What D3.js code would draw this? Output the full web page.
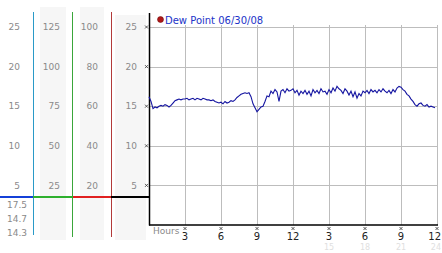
<!DOCTYPE html>
<meta charset="utf-8">
<head>
<script src="https://d3js.org/d3.v7.min.js"></script>
<style>
  body { margin: 0; background: #fff; }
  text { font-family: "DejaVu Sans", Verdana, sans-serif; font-size: 9px; }
  .lbl { fill: #8a8a8a; }
  .grid { stroke: #bdbdbd; stroke-width: 1px; shape-rendering: crispEdges; }
</style>
</head>
<body>
<script>
// dew point readings every 10 minutes, 06/30/08
var dewHours = d3.range(0, 24, 1 / 6);
var dewValues = [
  16.2, 15.6, 14.7, 14.9, 14.8, 15.0,   15.1, 15.0, 15.2, 15.1, 14.9, 15.1,
  15.4, 15.7, 15.8, 15.9, 15.8, 15.9,   15.9, 16.0, 15.8, 15.9, 16.0, 15.8,
  16.0, 15.9, 15.8, 16.0, 15.9, 15.8,   15.8, 15.7, 15.8, 15.6, 15.5, 15.4,
  15.5, 15.3, 15.6, 15.4, 15.5, 15.7,   15.6, 15.8, 16.1, 16.3, 16.5, 16.6,
  16.7, 16.6, 16.7, 16.2, 15.3, 14.8,   14.3, 14.6, 14.9, 15.0, 15.6, 16.3,
  16.2, 16.9, 16.6, 17.1, 16.8, 15.6,   16.9, 17.1, 16.7, 17.2, 16.9, 17.0,
  17.2, 16.7, 17.0, 16.4, 16.9, 16.6,   17.0, 16.5, 16.9, 16.3, 17.1, 16.7,
  17.0, 16.6, 17.2, 16.8, 16.9, 16.5,   17.1, 16.7, 17.3, 16.9, 17.5, 17.2,
  17.0, 16.6, 17.2, 16.9, 16.4, 16.9,   16.2, 16.8, 16.0, 16.6, 16.3, 16.9,
  16.7, 17.0, 16.6, 17.1, 16.8, 17.0,   16.7, 17.1, 16.8, 17.2, 16.9, 16.7,
  17.0, 16.6, 17.1, 16.8, 17.3, 17.5,   17.4, 17.1, 16.9, 16.5, 16.3, 15.9,
  15.6, 15.2, 15.0, 15.3, 15.4, 15.1,   15.0, 15.2, 14.9, 15.0, 14.9, 14.8
];
var colTicks1 = [5, 10, 15, 20, 25];
var colTicks2 = [25, 50, 75, 100, 125];
var colTicks3 = [20, 40, 60, 80, 100];
var summaryLabels = ["17.5", "14.7", "14.3"];
var hourTicks = [3, 6, 9, 12, 15, 18, 21, 24];
var hourLabels = ["3", "6", "9", "12", "3", "6", "9", "12"];
var hour24Ticks = [15, 18, 21, 24];
var legendLabel = "Dew Point 06/30/08";

var svg = d3.select("body").append("svg")
    .attr("width", 442)
    .attr("height", 253);

var x = d3.scaleLinear().domain([0, 24]).range([149, 437]);
var y = d3.scaleLinear().domain([0, 25]).range([225, 27]);
var y2 = d3.scaleLinear().domain([0, 125]).range([225, 27]);
var y3 = d3.scaleLinear().domain([0, 100]).range([225, 27]);

// grey bands of the side scales
[[40, 7, 26], [80, 7, 24], [115, 15, 31]].forEach(function(b) {
  svg.append("rect")
      .attr("x", b[0]).attr("y", b[1])
      .attr("width", b[2]).attr("height", 240 - b[1])
      .attr("fill", "#f6f6f6");
});

// column labels
function column(ticks, scale, xr) {
  svg.append("g").selectAll("text")
    .data(ticks)
    .join("text")
      .attr("class", "lbl")
      .attr("x", xr)
      .attr("y", function(d) { return scale(d); })
      .attr("dy", "0.35em")
      .attr("text-anchor", "end")
      .text(function(d) { return d; });
}
column(colTicks1, y, 20);
column(colTicks2, y2, 60);
column(colTicks3, y3, 98);
column(colTicks1, y, 137);

svg.append("g").selectAll("text")
  .data(summaryLabels)
  .join("text")
    .attr("class", "lbl")
    .attr("x", 7)
    .attr("y", function(d, i) { return 205 + i * 14; })
    .attr("dy", "0.35em")
    .text(function(d) { return d; });

// vertical scale lines
[[33, "#2a9ac8", 235], [72, "#3aa63a", 237], [111, "#b23a3a", 237]].forEach(function(l) {
  svg.append("line")
      .attr("x1", l[0]).attr("x2", l[0])
      .attr("y1", 12).attr("y2", l[2])
      .attr("stroke", l[1]).attr("stroke-width", 1)
      .attr("shape-rendering", "crispEdges");
});

// coloured baseline
[[0, 33, "#1440d8"], [33, 73, "#2eb02e"], [73, 111, "#e02020"], [111, 149, "#000"]].forEach(function(s) {
  svg.append("rect")
      .attr("x", s[0]).attr("y", 196)
      .attr("width", s[1] - s[0]).attr("height", 2)
      .attr("fill", s[2]);
});

// grid
svg.append("g").selectAll("line")
  .data(colTicks1)
  .join("line")
    .attr("class", "grid")
    .attr("x1", x(0)).attr("x2", x(24))
    .attr("y1", function(d) { return Math.round(y(d)) + 0.5; })
    .attr("y2", function(d) { return Math.round(y(d)) + 0.5; });

svg.append("g").selectAll("line")
  .data(hourTicks)
  .join("line")
    .attr("class", "grid")
    .attr("x1", function(d) { return Math.round(x(d)) + 0.5; })
    .attr("x2", function(d) { return Math.round(x(d)) + 0.5; })
    .attr("y1", 25).attr("y2", y(0));

// axes lines
svg.append("line")
    .attr("x1", 149.5).attr("x2", 149.5)
    .attr("y1", 13).attr("y2", y(0) + 0.5)
    .attr("stroke", "#000").attr("stroke-width", 1.5);
svg.append("line")
    .attr("x1", 149).attr("x2", x(24) + 1)
    .attr("y1", y(0)).attr("y2", y(0))
    .attr("stroke", "#000").attr("stroke-width", 1.5);

// tiny tick marks
function cross(cx, cy) {
  svg.append("path")
      .attr("d", "M" + (cx - 1.5) + "," + (cy - 1.5) + "l3,3M" + (cx + 1.5) + "," + (cy - 1.5) + "l-3,3")
      .attr("stroke", "#333").attr("stroke-width", 0.8).attr("fill", "none");
}
colTicks1.forEach(function(d) { cross(146.5, y(d)); });
hourTicks.forEach(function(d) { cross(x(d), 228.5); });

// hours axis labels
svg.append("text")
    .attr("class", "lbl")
    .attr("x", 153).attr("y", 231)
    .attr("dy", "0.35em")
    .text("Hours");

function edgeX(d) { return d === 24 ? 441 : x(d); }
function edgeAnchor(d) { return d === 24 ? "end" : "middle"; }

svg.append("g").selectAll("text")
  .data(hour24Ticks)
  .join("text")
    .attr("x", edgeX)
    .attr("y", 247)
    .attr("dy", "0.35em")
    .attr("text-anchor", edgeAnchor)
    .attr("fill", "#e0e0e0")
    .style("font-size", "8px")
    .text(function(d) { return d; });

svg.append("g").selectAll("text")
  .data(hourTicks)
  .join("text")
    .attr("x", edgeX)
    .attr("y", 236)
    .attr("dy", "0.35em")
    .attr("text-anchor", edgeAnchor)
    .attr("fill", "#222")
    .style("font-size", "10px")
    .text(function(d, i) { return hourLabels[i]; });

// dew point line
var line = d3.line()
    .x(function(d, i) { return x(dewHours[i]); })
    .y(function(d) { return y(d); });

svg.append("path")
    .datum(dewValues)
    .attr("d", line)
    .attr("fill", "none")
    .attr("stroke", "#1414a0")
    .attr("stroke-width", 1.1);

// legend
svg.append("circle")
    .attr("cx", 160.5).attr("cy", 19.5).attr("r", 3)
    .attr("fill", "#b01818").attr("stroke", "#600").attr("stroke-width", 0.5);
svg.append("text")
    .attr("x", 165).attr("y", 20)
    .attr("dy", "0.35em")
    .attr("fill", "#2233c8")
    .style("font-size", "10px")
    .text(legendLabel);
</script>
</body>
